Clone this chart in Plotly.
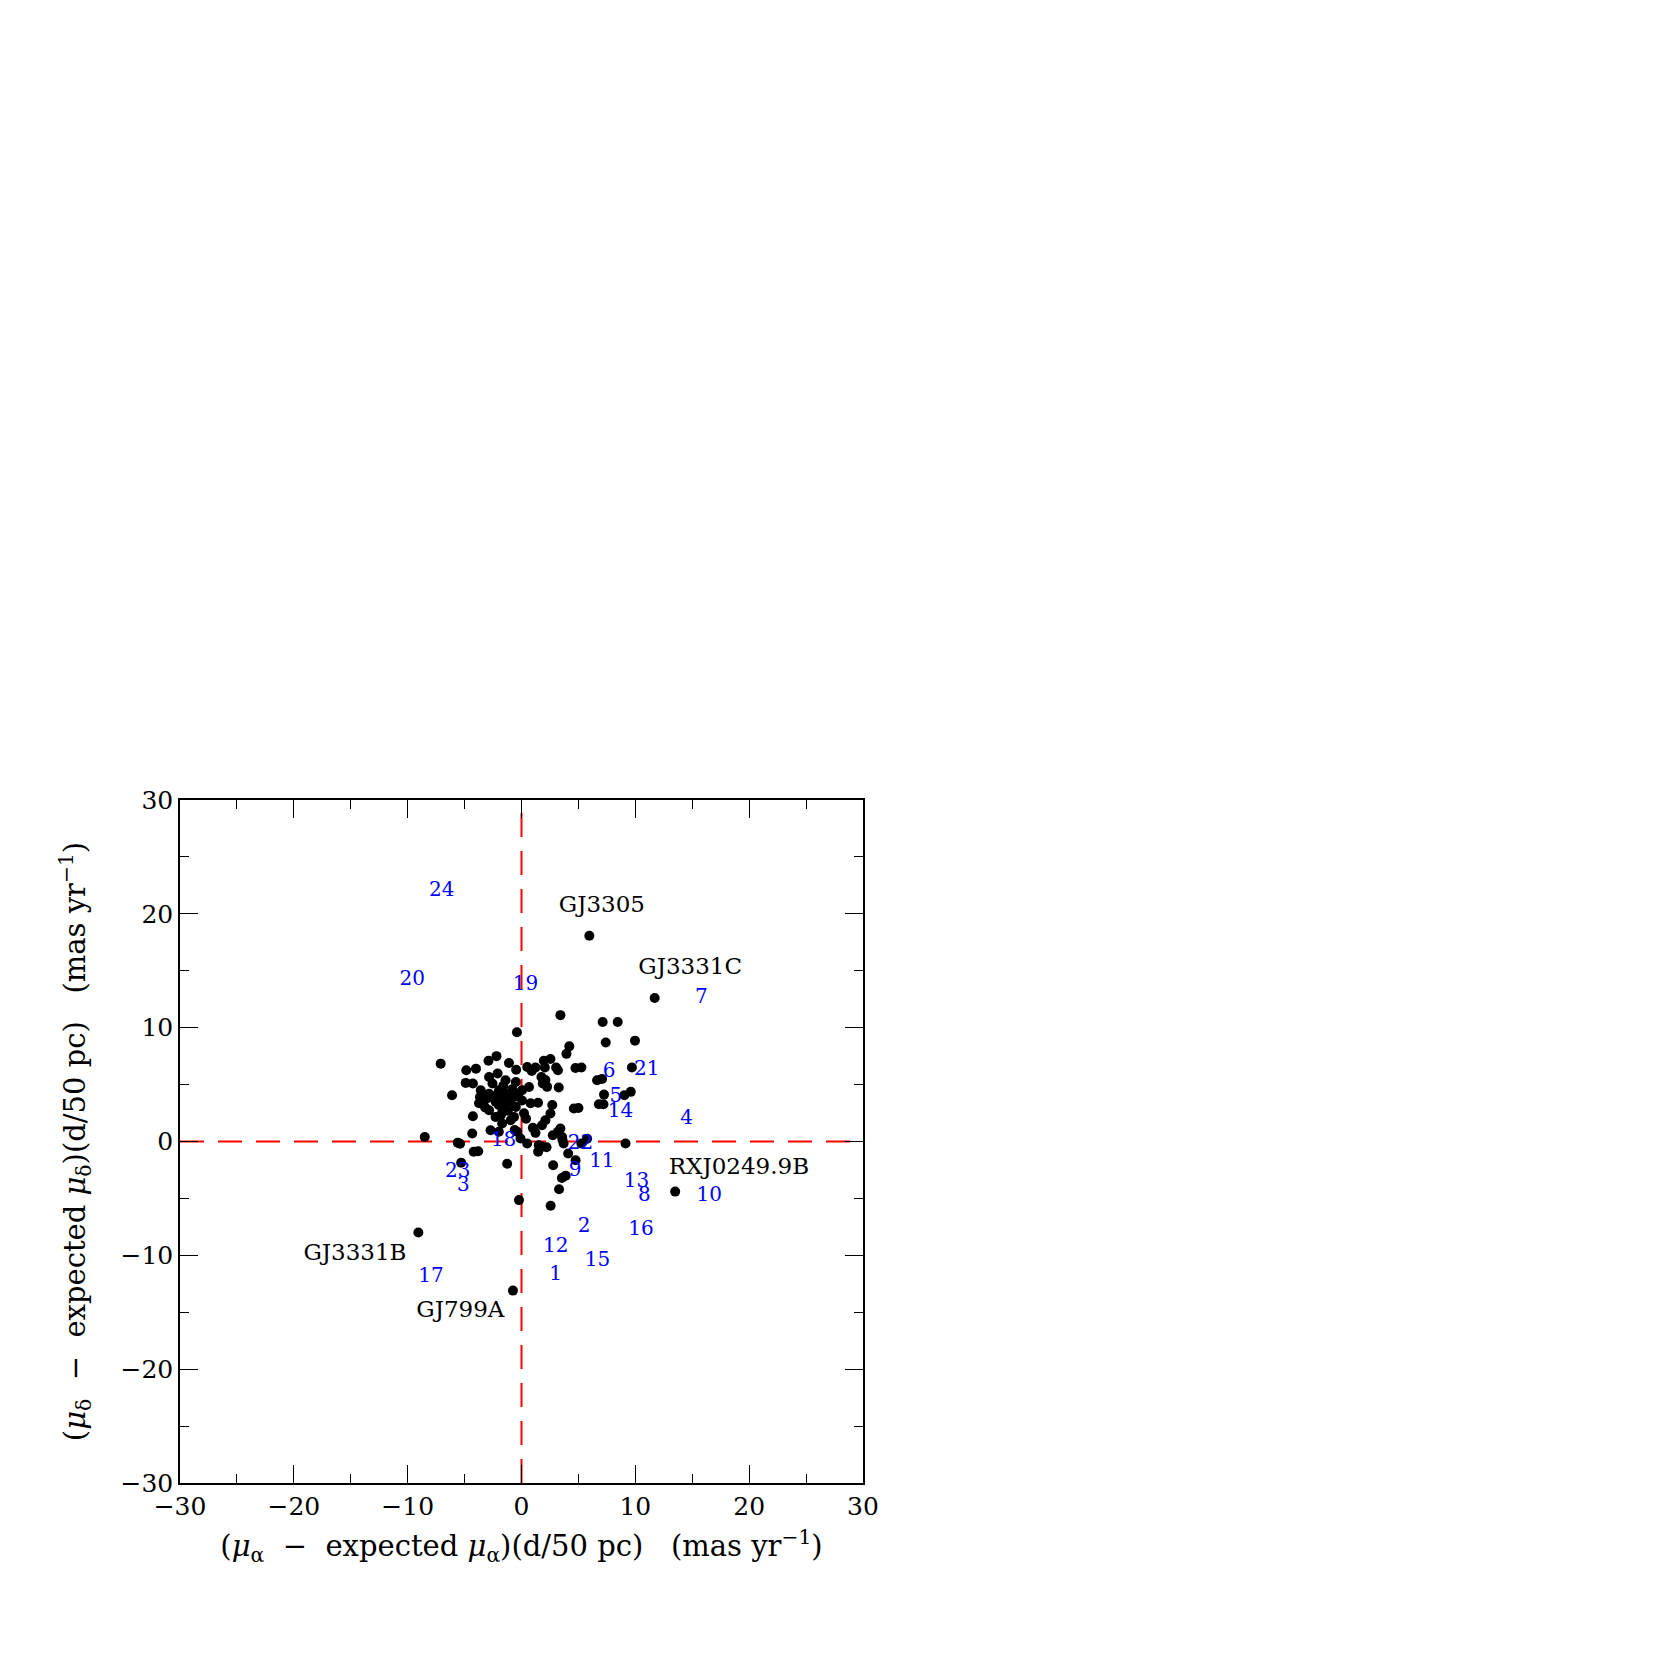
import plotly.graph_objects as go

# proper-motion residuals of the sample stars (mas/yr, scaled to 50 pc)
pts_x = [5.96, 11.7, 13.5, -9.06, -0.75,
         3.42, 7.13, 8.45, 7.4, 9.97, -0.4, 4.2, 3.95, -7.1, -6.1, -8.5,
         -4.85, -4.0, -2.9, -2.2, -1.1, -0.47, -4.9, -4.27, -3.65, -3.45, -4.27,
         -4.33, -5.6, -5.4, -4.2, -3.8, -5.3, -1.26,
         0.5, 1.23, 1.96, 2.54, 2.05, 3.04, 3.2, 3.27, 1.75, 1.87, 2.25, 2.1,
         4.74, 5.26, 6.64, 7.08, 7.25, 9.03, 9.6, 9.7, 6.8, 7.2, 4.6, 5.0,
         9.14, 5.76, 5.26, 2.7, 2.54, 2.1, 1.8, 1.23, 2.75, 3.2, 3.42, 3.57, 3.7,
         4.1, 4.75, 2.78, 1.52, 1.8, 1.46, 2.2, 0.5, -0.09, -0.38,
         -1.99, -2.72, -2.28, -1.7, 3.55, 3.88, 3.3, 2.56, -0.22,
         -2.85, -2.1, -1.4, -0.5, 0.9, 0.66, 0.8, 0.22, -0.66, -1.82, -2.85, -3.73,
         -3.58, -2.85, -1.97, -1.27, -0.66, -2.26, -1.39, -0.5, 0.05, 0.05, -2.55,
         -1.68, -0.95, -1.5, -1.0, -2.0, -0.8, -1.6, -2.4, -0.3, -1.2, -2.0, -3.2,
         -3.0, 0.4, 1.0, -0.6, 1.45, 3.6]
pts_y = [18.08, 12.6, -4.4, -8.0, -13.1,
         11.1, 10.5, 10.5, 8.7, 8.86, 9.6, 8.36, 7.7, 6.84, 4.06, 0.4,
         6.26, 6.4, 7.1, 7.5, 6.9, 6.3, 5.15, 5.1, 3.9, 3.33, 2.22,
         0.7, -0.1, -0.2, -0.9, -0.85, -1.87, -1.95,
         6.55, 6.5, 7.1, 7.25, 6.5, 6.5, 6.26, 4.74, 5.67, 5.1, 4.8, 5.4,
         6.46, 6.5, 5.38, 5.5, 4.12, 4.06, 4.36, 6.5, 3.27, 3.27, 2.9, 2.95,
         -0.18, 0.25, -0.18, 3.2, 2.46, 1.87, 1.43, 0.76, 0.55, 0.85, 1.14, 0.4, -0.18,
         -1.05, -1.64, -2.08, -0.32, -0.47, -0.9, -0.5, -0.18, 0.26, 0.85,
         0.85, 0.99, 2.16, 1.58, -3.2, -3.0, -4.2, -5.65, -5.15,
         5.67, 5.98, 5.38, 5.23, 6.2, 4.79, 3.36, 2.48, 2.16, 2.31, 2.75, 3.36,
         4.5, 4.2, 4.5, 4.2, 3.9, 3.47, 3.18, 3.03, 3.6, 4.5, 5.1,
         2.6, 1.87, 3.8, 3.5, 3.9, 4.6, 4.9, 4.0, 4.2, 2.7, 3.2, 3.0,
         3.8, 2.0, 1.2, 1.0, 3.4, 0.16]

# numbered objects (blue)
num_labels = ["1", "2", "3", "4", "5", "6", "7", "8", "9", "10", "11", "12",
              "13", "14", "15", "16", "17", "18", "19", "20", "21", "22", "23", "24"]
num_x = [3.0, 5.5, -5.1, 14.5, 8.3, 7.7, 15.8, 10.8, 4.7, 16.5, 7.06, 3.0,
         10.1, 8.7, 6.67, 10.5, -7.96, -1.57, 0.35, -9.6, 11.0, 5.18, -5.6, -7.0]
num_y = [-11.76, -7.5, -3.9, 2.0, 3.9, 6.08, 12.6, -4.78, -2.55, -4.78, -1.76, -9.25,
         -3.53, 2.55, -10.47, -7.8, -11.92, 0.04, 13.76, 14.2, 6.27, -0.2, -2.7, 22.0]

# named stars (black)
star_names = ["GJ3305", "GJ3331C", "RXJ0249.9B", "GJ3331B", "GJ799A"]
star_x = [7.06, 14.82, 19.1, -14.63, -5.37]
star_y = [20.67, 15.18, -2.39, -9.92, -14.9]

FONT = "DejaVu Serif"

fig = go.Figure()

fig.add_trace(go.Scatter(
    x=pts_x, y=pts_y, mode='markers',
    marker=dict(size=10, color='black'),
    showlegend=False
))
fig.add_trace(go.Scatter(
    x=num_x, y=num_y, mode='text', text=num_labels,
    textfont=dict(family=FONT, size=20, color='blue'),
    showlegend=False
))
fig.add_trace(go.Scatter(
    x=star_x, y=star_y, mode='text', text=star_names,
    textfont=dict(family=FONT, size=23, color='black'),
    showlegend=False
))

fig.add_hline(y=0, layer='below', line=dict(color='red', width=2, dash='24px,14px'))
fig.add_vline(x=0, layer='below', line=dict(color='red', width=2, dash='24px,14px'))

axis_style = dict(
    range=[-30, 30], dtick=10, ticks='inside', ticklen=18, tickwidth=1.3,
    tickcolor='black', minor=dict(dtick=5, ticks='inside', ticklen=9, tickwidth=1.3, tickcolor='black'),
    showline=True, linecolor='black', linewidth=1.5, mirror='ticks',
    showgrid=False, zeroline=False,
    tickfont=dict(family=FONT, size=25, color='black'),
)

x_title = "(<i>μ</i><sub>α</sub>  −  expected <i>μ</i><sub>α</sub>)(d/50 pc)   (mas yr<sup>−1</sup>)"
y_title = "(<i>μ</i><sub>δ</sub>  −  expected <i>μ</i><sub>δ</sub>)(d/50 pc)   (mas yr<sup>−1</sup>)"

fig.update_layout(
    width=1645, height=1645,
    margin=dict(l=172, r=790, t=792, b=170),
    plot_bgcolor='white', paper_bgcolor='white',
    font=dict(family=FONT, color='black'),
    xaxis=dict(axis_style, title=dict(text=x_title, font=dict(family=FONT, size=29), standoff=16)),
    yaxis=dict(axis_style, title=dict(text=y_title, font=dict(family=FONT, size=29), standoff=26)),
)

fig.write_html("out.html")
